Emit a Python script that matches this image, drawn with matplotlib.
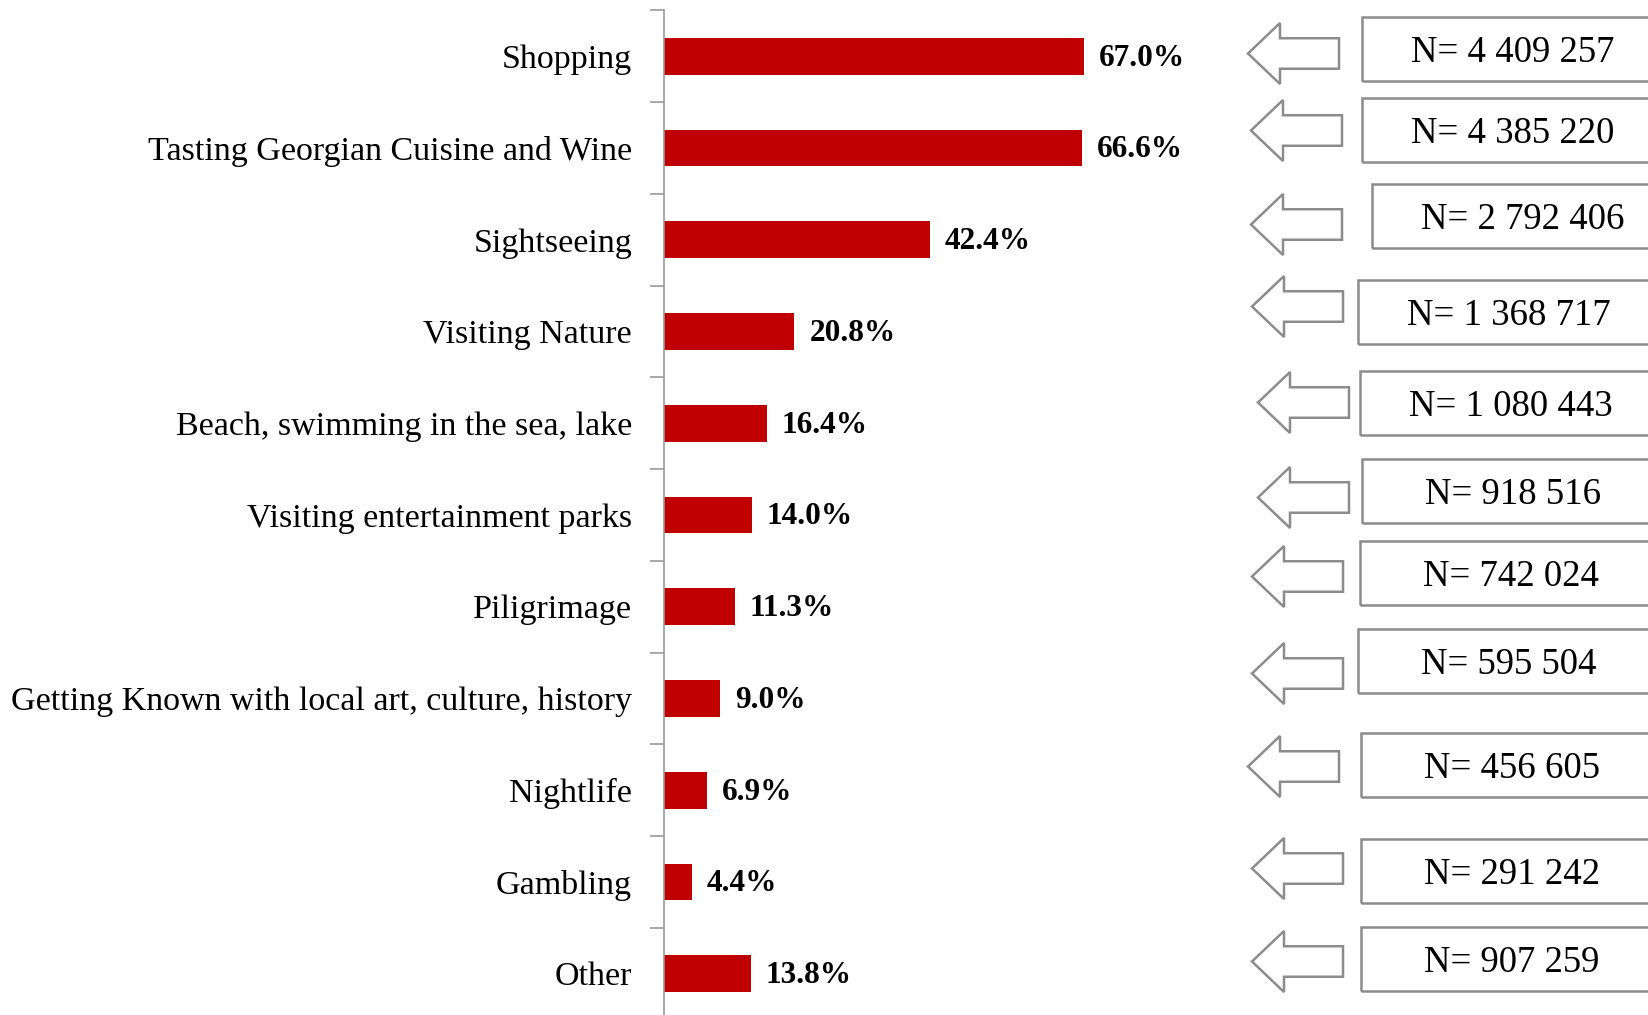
import matplotlib
matplotlib.use("Agg")
import matplotlib.pyplot as plt
from matplotlib.patches import Polygon, Rectangle
import numpy as np

plt.rcParams['font.family'] = ['Liberation Serif', 'DejaVu Serif']

# Purposes of visit, share of visitors (%) and estimated number of visitors
categories = [
    "Shopping",
    "Tasting Georgian Cuisine and Wine",
    "Sightseeing",
    "Visiting Nature",
    "Beach, swimming in the sea, lake",
    "Visiting entertainment parks",
    "Piligrimage",
    "Getting Known with local art, culture, history",
    "Nightlife",
    "Gambling",
    "Other",
]
shares = [67.0, 66.6, 42.4, 20.8, 16.4, 14.0, 11.3, 9.0, 6.9, 4.4, 13.8]
visitor_counts = ["4 409 257", "4 385 220", "2 792 406", "1 368 717", "1 080 443",
                  "918 516", "742 024", "595 504", "456 605", "291 242", "907 259"]

# callout layout in figure pixels: (arrow left, arrow top, box left, box top)
callout_pos = [
    (1248, 23, 1362, 17), (1251, 100, 1362, 98), (1251, 194, 1372, 184),
    (1252, 276, 1358, 280), (1258, 372, 1360, 371), (1258, 467, 1362, 459),
    (1252, 546, 1360, 541), (1252, 643, 1358, 629), (1248, 736, 1361, 733),
    (1252, 838, 1361, 839), (1252, 931, 1361, 927),
]

W, H = 1649, 1015
fig = plt.figure(figsize=(W / 100, H / 100), dpi=100)
ax = fig.add_axes([664 / W, 1 - 1019.5 / H, 627 / W, 1009 / H])

y = np.arange(len(categories))
ax.barh(y, shares, height=0.4, color="#C00000")
ax.set_xlim(0, 100)
ax.set_ylim(len(categories) - 0.5, -0.5)

for yi, v in zip(y, shares):
    ax.text(v + 2.4, yi + 0.02, f"{v:.1f}%", va="center", ha="left",
            fontsize=22.5, fontweight="bold")

ax.set_yticks(y)
ax.set_yticklabels(categories, fontsize=24.5)
ax.tick_params(axis="y", which="major", length=0, pad=23)
ax.set_yticks(np.arange(len(categories) + 1) - 0.5, minor=True)
ax.tick_params(axis="y", which="minor", length=10, width=1.2, color="#9a9a9a")
ax.set_xticks([])
for s in ["top", "right", "bottom"]:
    ax.spines[s].set_visible(False)
ax.spines["left"].set_color("#9a9a9a")
ax.spines["left"].set_linewidth(1.2)


def px(x, yy):
    # figure pixel (origin top-left) to figure fraction
    return (x / W, 1 - yy / H)


aw, ah, head = 91, 61, 32
bw, bh = 300, 64
for (axl, axt, bxl, bxt), n in zip(callout_pos, visitor_counts):
    shaft_t = axt + ah * 0.25
    shaft_b = axt + ah * 0.75
    pts = [
        (axl, axt + ah / 2), (axl + head, axt), (axl + head, shaft_t),
        (axl + aw, shaft_t), (axl + aw, shaft_b), (axl + head, shaft_b),
        (axl + head, axt + ah),
    ]
    fig.patches.append(Polygon([px(*p) for p in pts], closed=True, fill=False,
                               edgecolor="#8c8c8c", linewidth=1.8,
                               transform=fig.transFigure, joinstyle="miter"))
    x0, y0 = px(bxl, bxt + bh)
    fig.patches.append(Rectangle((x0, y0), bw / W, bh / H, fill=False,
                                 edgecolor="#8c8c8c", linewidth=1.8,
                                 transform=fig.transFigure))
    tx, ty = px(bxl + 151, bxt + bh * 0.71)
    fig.text(tx, ty, f"N= {n}", ha="center", va="baseline", fontsize=26.5)

fig.savefig("out.png", dpi=100)
